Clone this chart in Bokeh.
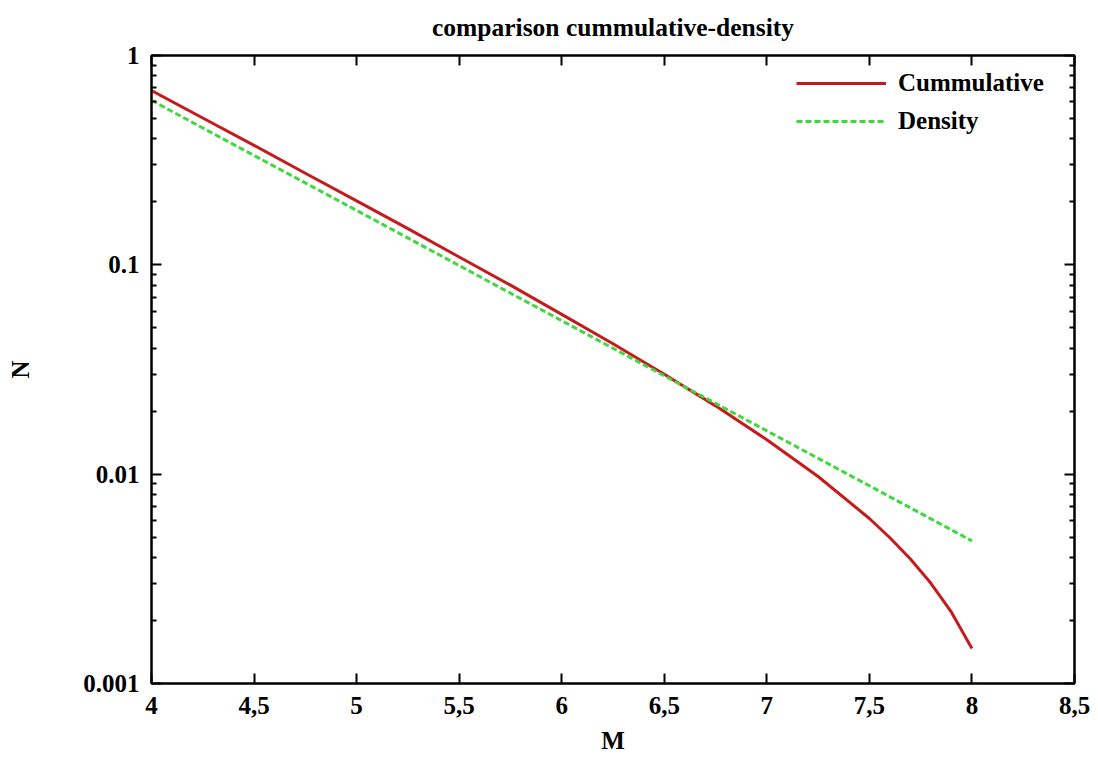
from bokeh.plotting import figure
from bokeh.models import (LogAxis, LinearAxis, FixedTicker, CustomJSTickFormatter,
                          Range1d)
from bokeh.embed import file_html
from bokeh.resources import INLINE

# ---- data ----
M_cum = [4.0, 4.25, 4.5, 4.75, 5.0, 5.25, 5.5, 5.75, 6.0, 6.25, 6.5, 6.75,
         7.0, 7.25, 7.5, 7.6, 7.7, 7.8, 7.9, 8.0]
N_cum = [0.68, 0.503, 0.372, 0.274, 0.202, 0.149, 0.109, 0.080, 0.058, 0.042,
         0.030, 0.0212, 0.0146, 0.00975, 0.00614, 0.00497, 0.00393, 0.00301,
         0.00219, 0.00147]

M_den = [4.0, 4.5, 5.0, 5.5, 6.0, 6.5, 7.0, 7.5, 8.0]
N_den = [0.61, 0.333, 0.182, 0.0992, 0.0541, 0.0295, 0.0161, 0.0088, 0.0048]

x_ticks = [4, 4.5, 5, 5.5, 6, 6.5, 7, 7.5, 8, 8.5]
y_ticks = [0.001, 0.01, 0.1, 1]
y_minor = [m * d for d in [0.001, 0.01, 0.1] for m in range(2, 10)]

title_text = "comparison cummulative-density"
x_label = "M"
y_label = "N"
names = ["Cummulative", "Density"]

FONT = "Liberation Serif"
FS = "25px"
RED = "#c41c1c"
GREEN = "#40d840"

p = figure(width=1090, height=756, x_range=Range1d(4, 8.5),
           y_range=Range1d(0.001, 1), y_axis_type="log",
           output_backend="svg", toolbar_location=None, title=title_text,
           min_border_left=151, min_border_right=16, min_border_top=54,
           min_border_bottom=71)

p.title.text_font = FONT
p.title.text_font_style = "bold"
p.title.text_font_size = "25.5px"
p.title.text_color = "black"
p.title.align = "center"
p.title.vertical_align = "top"
p.title.standoff = 24

p.grid.visible = False
p.outline_line_color = "black"
p.outline_line_width = 2
p.background_fill_color = "white"
p.border_fill_color = "white"

xfmt = CustomJSTickFormatter(code="return tick.toString().replace('.', ',');")
yfmt = CustomJSTickFormatter(code="return tick.toString();")
nofmt = CustomJSTickFormatter(code="return '';")


def style_axis(ax):
    ax.axis_line_color = "black"
    ax.axis_line_width = 2
    ax.major_tick_in = 10
    ax.major_tick_out = 0
    ax.major_tick_line_width = 2
    ax.minor_tick_in = 5
    ax.minor_tick_out = 0
    ax.minor_tick_line_width = 2
    ax.major_label_text_font = FONT
    ax.major_label_text_font_style = "bold"
    ax.major_label_text_font_size = FS
    ax.major_label_text_color = "black"
    ax.axis_label_text_font = FONT
    ax.axis_label_text_font_style = "bold"
    ax.axis_label_text_font_size = FS
    ax.axis_label_text_color = "black"


xa = p.xaxis[0]
style_axis(xa)
xa.ticker = FixedTicker(ticks=x_ticks)
xa.formatter = xfmt
xa.minor_tick_line_color = None
xa.axis_label = x_label
xa.major_label_standoff = 13
xa.axis_label_standoff = 10

ya = p.yaxis[0]
style_axis(ya)
ya.ticker = FixedTicker(ticks=y_ticks, minor_ticks=y_minor)
ya.formatter = yfmt
ya.axis_label = y_label
ya.major_label_standoff = 12
ya.axis_label_standoff = 46

top = LinearAxis(ticker=FixedTicker(ticks=x_ticks), formatter=nofmt)
style_axis(top)
top.minor_tick_line_color = None
top.major_label_standoff = 0
p.add_layout(top, "above")

right = LogAxis(ticker=FixedTicker(ticks=y_ticks, minor_ticks=y_minor),
                formatter=nofmt)
style_axis(right)
right.major_label_standoff = 0
p.add_layout(right, "right")

p.line(M_cum, N_cum, line_color=RED, line_width=3, legend_label=names[0])
p.line(M_den, N_den, line_color=GREEN, line_width=3, line_dash="6 3",
       legend_label=names[1])

lg = p.legend[0]
lg.location = "top_right"
lg.border_line_color = None
lg.background_fill_alpha = 0
lg.label_text_font = FONT
lg.label_text_font_style = "bold"
lg.label_text_font_size = FS
lg.label_text_color = "black"
lg.glyph_width = 90
lg.label_standoff = 12
lg.label_width = 162
lg.spacing = 10
lg.margin = 14
lg.padding = 5

open("out.html", "w").write(file_html(p, INLINE))
